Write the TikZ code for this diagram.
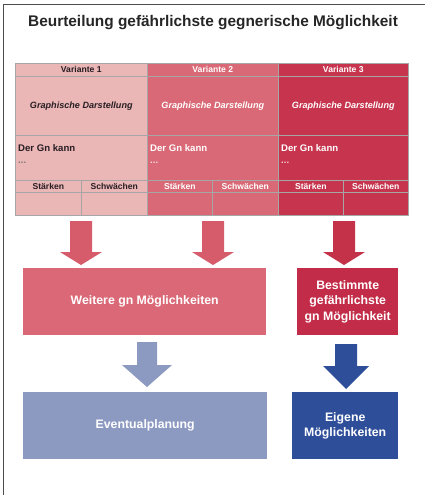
\documentclass[tikz,border=0pt]{standalone}
\usepackage{fontspec}
\setmainfont{Liberation Sans}
\begin{document}
\begin{tikzpicture}[x=1pt,y=-1pt,
  cellA/.style={draw=gray!70, line width=0.6pt, fill=varA, inner sep=0pt, anchor=north west},
  cellB/.style={cellA, fill=varB},
  cellC/.style={cellA, fill=varC},
  hdr/.style={font=\bfseries\fontsize{8.6}{10}\selectfont},
  gra/.style={font=\bfseries\itshape\fontsize{9.1}{10}\selectfont},
  txt/.style={font=\bfseries\fontsize{9.6}{11}\selectfont, anchor=west, inner sep=0pt},
  box/.style={inner sep=0pt, anchor=north west, font=\bfseries\fontsize{12.3}{15.5}\selectfont, text=white, align=center},
]
\definecolor{varA}{RGB}{234,182,182}
\definecolor{varB}{RGB}{217,105,118}
\definecolor{varC}{RGB}{198,52,78}
\definecolor{arrA}{RGB}{214,92,108}
\definecolor{arrC}{RGB}{196,50,74}
\definecolor{boxW}{RGB}{218,104,118}
\definecolor{boxB}{RGB}{194,44,72}
\definecolor{blueL}{RGB}{140,154,194}
\definecolor{blueD}{RGB}{46,78,154}
\definecolor{txtD}{RGB}{40,30,35}
\useasboundingbox (0,0) rectangle (425,495);
\fill[white] (0,0) rectangle (425,495);
% frame
\draw[gray!60!black, line width=1pt] (3,495) -- (3,5) -- (425,5);
% title
\node[anchor=west, inner sep=0pt, font=\bfseries\fontsize{15.4}{17}\selectfont, text=black!85] (title) at (28,22.5) {Beurteilung gefährlichste gegnerische Möglichkeit};

% table column 1
\node[cellA, minimum width=132, minimum height=13] (h1) at (15,63) {};
\node[cellA, minimum width=132, minimum height=59] (g1) at (15,76) {};
\node[cellA, minimum width=132, minimum height=45] (t1) at (15,135) {};
\node[cellA, minimum width=66, minimum height=12] (s1) at (15,180) {};
\node[cellA, minimum width=66, minimum height=12] (w1) at (81,180) {};
\node[cellA, minimum width=66, minimum height=23] (e1) at (15,192) {};
\node[cellA, minimum width=66, minimum height=23] (f1) at (81,192) {};
% column 2
\node[cellB, minimum width=131, minimum height=13] (h2) at (147,63) {};
\node[cellB, minimum width=131, minimum height=59] (g2) at (147,76) {};
\node[cellB, minimum width=131, minimum height=45] (t2) at (147,135) {};
\node[cellB, minimum width=65, minimum height=12] (s2) at (147,180) {};
\node[cellB, minimum width=66, minimum height=12] (w2) at (212,180) {};
\node[cellB, minimum width=65, minimum height=23] (e2) at (147,192) {};
\node[cellB, minimum width=66, minimum height=23] (f2) at (212,192) {};
% column 3
\node[cellC, minimum width=130, minimum height=13] (h3) at (278,63) {};
\node[cellC, minimum width=130, minimum height=59] (g3) at (278,76) {};
\node[cellC, minimum width=130, minimum height=45] (t3) at (278,135) {};
\node[cellC, minimum width=65, minimum height=12] (s3) at (278,180) {};
\node[cellC, minimum width=65, minimum height=12] (w3) at (343,180) {};
\node[cellC, minimum width=65, minimum height=23] (e3) at (278,192) {};
\node[cellC, minimum width=65, minimum height=23] (f3) at (343,192) {};

% texts
\node[hdr, text=txtD] at (h1) {Variante 1};
\node[hdr, text=white] at (h2) {Variante 2};
\node[hdr, text=white] at (h3) {Variante 3};
\node[gra, text=txtD] at (g1) {Graphische Darstellung};
\node[gra, text=white] at (g2) {Graphische Darstellung};
\node[gra, text=white] at (g3) {Graphische Darstellung};
\node[txt, text=txtD] at ([xshift=3,yshift=-13]t1.north west) {Der Gn kann};
\node[txt, text=txtD!60] at ([xshift=3,yshift=-28]t1.north west) {...};
\node[txt, text=white] at ([xshift=3,yshift=-13]t2.north west) {Der Gn kann};
\node[txt, text=white!75!varB] at ([xshift=3,yshift=-28]t2.north west) {...};
\node[txt, text=white] at ([xshift=3,yshift=-13]t3.north west) {Der Gn kann};
\node[txt, text=white!75!varC] at ([xshift=3,yshift=-28]t3.north west) {...};
\node[hdr, text=txtD] at (s1) {Stärken};
\node[hdr, text=txtD] at (w1) {Schwächen};
\node[hdr, text=white] at (s2) {Stärken};
\node[hdr, text=white] at (w2) {Schwächen};
\node[hdr, text=white] at (s3) {Stärken};
\node[hdr, text=white] at (w3) {Schwächen};

% lower boxes
\node[box, fill=boxW, minimum width=243, minimum height=67] (weit) at (23,268) {Weitere gn Möglichkeiten};
\node[box, fill=boxB, minimum width=101, minimum height=67] (best) at (297,268) {Bestimmte\\gefährlichste\\gn Möglichkeit};
\node[box, fill=blueL, minimum width=244, minimum height=67] (even) at (23,392) {Eventualplanung};
\node[box, fill=blueD, minimum width=106, minimum height=67] (eig) at (292,392) {Eigene\\Möglichkeiten};

% block arrows: center x, top y, head start y, tip y, half shaft, half head
\newcommand{\blockarr}[7]{%
  \fill[#7] (#1-#5,#2) -- (#1+#5,#2) -- (#1+#5,#3) -- (#1+#6,#3) -- (#1,#4) -- (#1-#6,#3) -- (#1-#5,#3) -- cycle;}
\blockarr{81}{221}{252}{265}{11}{21}{arrA}
\blockarr{213}{221}{252}{265}{11}{21}{arrA}
\blockarr{344}{221}{252}{265}{11}{21}{arrC}
\blockarr{147}{342}{365}{387}{10}{25}{blueL}
\blockarr{346}{344}{366}{389}{11}{23}{blueD}
\end{tikzpicture}
\end{document}
